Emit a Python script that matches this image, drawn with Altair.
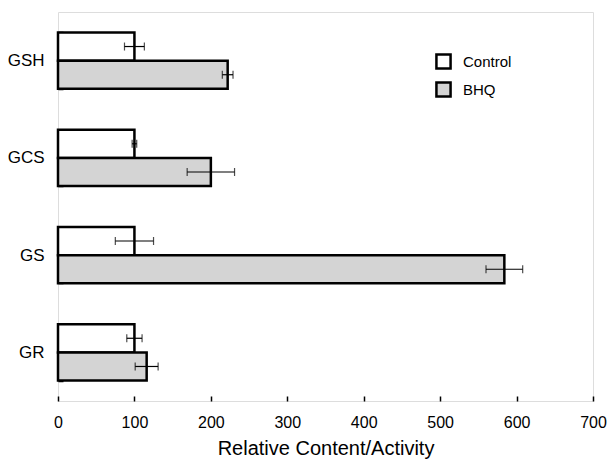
import altair as alt
import pandas as pd

categories = ["GSH", "GCS", "GS", "GR"]
series = ["Control", "BHQ"]
control_vals = [100, 100, 100, 100]
bhq_vals = [222, 200, 584, 116]
control_err = [13, 3, 25, 10]
bhq_err = [7, 31, 24, 15]
x_ticks = [0, 100, 200, 300, 400, 500, 600, 700]
colors = ["white", "#d4d4d4"]

rows = []
for i, c in enumerate(categories):
    rows.append({"cat": c, "grp": "Control", "val": control_vals[i], "err": control_err[i]})
    rows.append({"cat": c, "grp": "BHQ", "val": bhq_vals[i], "err": bhq_err[i]})
df = pd.DataFrame(rows)
df["lo"] = df["val"] - df["err"]
df["hi"] = df["val"] + df["err"]

font = "Liberation Sans"

y_enc = alt.Y("cat:N", sort=categories,
              scale=alt.Scale(paddingInner=0.42, paddingOuter=0.21),
              axis=alt.Axis(title=None, domain=False, offset=-5, tickSize=5,
                            tickBand="extent", tickColor="black", tickWidth=1.5,
                            labelPadding=14, labelFontSize=17, labelColor="black",
                            labelFont=font))
yoff = alt.YOffset("grp:N", sort=series, scale=alt.Scale(paddingInner=0, paddingOuter=0))

x_scale = alt.Scale(domain=[0, 700], nice=False)

bars = alt.Chart(df).mark_bar(stroke="black", strokeWidth=2.5).encode(
    x=alt.X("val:Q", scale=x_scale,
            axis=alt.Axis(values=x_ticks, title="Relative Content/Activity",
                          domain=False, offset=-5, tickSize=5, tickColor="black",
                          tickWidth=1.5,
                          labelPadding=13, labelFontSize=16, labelColor="black",
                          labelFont=font, titleFont=font, titleFontSize=20,
                          titleFontWeight="normal", titleColor="black",
                          titlePadding=8, grid=False, labelFlush=False)),
    y=y_enc,
    yOffset=yoff,
    fill=alt.Fill("grp:N", sort=series,
                  scale=alt.Scale(domain=series, range=colors),
                  legend=alt.Legend(title=None, orient="none", legendX=377, legendY=41,
                                    symbolType="square", symbolSize=200,
                                    symbolStrokeColor="black", symbolStrokeWidth=2.5,
                                    labelFontSize=15, labelFont=font, labelColor="black",
                                    rowPadding=3, labelOffset=11)),
)

err_rule = alt.Chart(df).mark_rule(color="black", strokeWidth=1.2).encode(
    x=alt.X("lo:Q", scale=x_scale), x2="hi:Q", y=alt.Y("cat:N", sort=categories), yOffset=yoff)
cap_lo = alt.Chart(df).mark_tick(color="black", thickness=1.2, size=8, orient="vertical").encode(
    x=alt.X("lo:Q", scale=x_scale), y=alt.Y("cat:N", sort=categories), yOffset=yoff)
cap_hi = alt.Chart(df).mark_tick(color="black", thickness=1.2, size=8, orient="vertical").encode(
    x=alt.X("hi:Q", scale=x_scale), y=alt.Y("cat:N", sort=categories), yOffset=yoff)

chart = alt.layer(bars, err_rule, cap_lo, cap_hi).properties(
    width=535, height=389,
    autosize=alt.AutoSizeParams(type="none"),
    padding={"left": 50, "top": 4, "right": 14, "bottom": 62},
).configure_view(stroke="black", strokeWidth=1.5).configure(background="white")

chart.save("out.html", embed_options={"renderer": "svg", "actions": False})
